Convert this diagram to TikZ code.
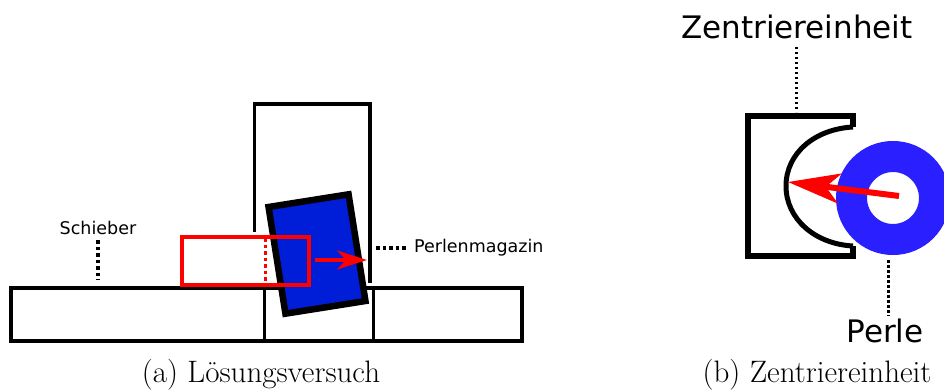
\documentclass[tikz,border=0pt]{standalone}
\usepackage{fontspec}
\usepackage{tikz}
\usetikzlibrary{arrows.meta}
\newfontfamily\labelfont{DejaVu Sans}
\definecolor{perlblue}{RGB}{42,31,255}
\definecolor{blockblue}{RGB}{0,30,215}
\tikzstyle{platenode}=[
    draw=black,     % the plates of the base
    rectangle,
    line width=4.5pt,
    inner sep=0pt]
\tikzstyle{blocknode}=[
    draw=black,     % the tilted bead
    fill=blockblue,
    rectangle,
    line width=6.5pt,
    inner sep=0pt,
    minimum width=81pt,
    minimum height=108pt]
\tikzstyle{slidernode}=[
    draw=red,       % the slider in its moved position
    rectangle,
    line width=3.5pt,
    inner sep=0pt,
    minimum width=127pt,
    minimum height=48pt]
\tikzstyle{ringnode}=[
    draw=perlblue,  % the ring of the bead
    fill=white,
    circle,
    line width=31pt,
    inner sep=0pt,
    minimum size=83pt]
\tikzstyle{smalltext}=[font=\labelfont\fontsize{17.5}{20}\selectfont, inner sep=0pt]
\tikzstyle{bigtext}=[font=\labelfont\fontsize{31}{35}\selectfont, inner sep=0pt]
\tikzstyle{captext}=[font=\fontsize{31}{34}\selectfont, inner sep=0pt]
\tikzstyle{leader}=[dash pattern=on 3.5pt off 3pt, line width=3.5pt, black]
\begin{document}
\begin{tikzpicture}[x=1pt,y=-1pt]
        \clip (0,0) rectangle (944,390);

        % Draw the left picture.
        \coordinate (ml) at (254.5,232);
        \coordinate (mr) at (370,283);
        \draw[line width=3.5pt] (ml) -- (254.5,104) -- (370,104) -- (mr);
        \node[platenode, minimum width=511pt, minimum height=53pt] (base) at (266.5,314.5) {};
        \node[platenode, line width=3pt, minimum width=109pt, minimum height=53pt] (gap) at (319,314.5) {};
        \node[blocknode, rotate=9] (block) at (317,254) {};
        \node[slidernode] (slider) at (245.5,261) {};
        \coordinate (st) at (265.5,238);
        \coordinate (sb) at (265.5,284);
        \draw[red, dash pattern=on 3.5pt off 3pt, line width=3.5pt] (st) -- (sb);
        \coordinate (pa) at (315,260);
        \coordinate (pb) at (367,260);
        \draw[-{Stealth[length=30pt,width=19pt,inset=9pt]}, red, line width=3.5pt] (pa) -- (pb);

        % Labels of the left picture
        \node[smalltext] (schieber) at (98,228) {Schieber};
        \coordinate (sl) at (98,280);
        \draw[leader] (98,240) -- (sl);
        \node[smalltext, anchor=west] (magazin) at (414,248) {Perlenmagazin};
        \coordinate (ll) at (376,248);
        \draw[leader] (ll) -- (406,248);
        \node[captext] (capa) at (261,375) {(a) Lösungsversuch};

        % Draw the right picture.
        \draw[line width=5.5pt, line join=miter] (853,127) -- (853,116) -- (748,116) -- (748,256) -- (853,256) -- (853,246);
        \draw[line width=5pt] (853,127) .. controls (815,129) and (786,153) .. (786,186) .. controls (786,219) and (815,244) .. (853,246);
        \node[ringnode] (perl) at (893,198) {};
        \coordinate (ra) at (899,196);
        \coordinate (rb) at (788,182);
        \draw[-{Stealth[length=52pt,width=30pt,inset=14pt]}, red, line width=6pt] (ra) -- (rb);

        % Labels of the right picture
        \node[bigtext] (zentrier) at (797,27) {Zentriereinheit};
        \coordinate (zl) at (796,112);
        \draw[leader, dash pattern=on 2.5pt off 2.5pt, line width=3pt] (796,47) -- (zl);
        \node[bigtext] (perle) at (885,331) {Perle};
        \coordinate (pl) at (888,260);
        \draw[leader, dash pattern=on 2.5pt off 2.5pt, line width=3pt] (pl) -- (888,316);
        \node[captext] (capb) at (817,375) {(b) Zentriereinheit};
\end{tikzpicture}
\end{document}
